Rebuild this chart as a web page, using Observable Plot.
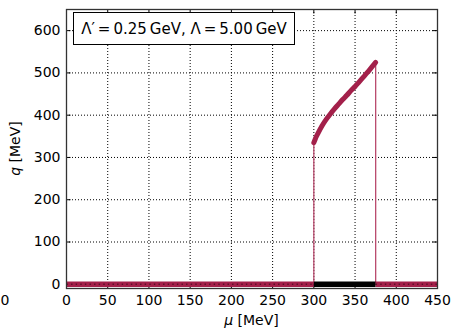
<!DOCTYPE html>
<html>
<head>
<meta charset="utf-8">
<script src="https://cdn.jsdelivr.net/npm/d3@7"></script>
<script src="https://cdn.jsdelivr.net/npm/@observablehq/plot@0.6"></script>
<style>
  html, body { margin: 0; padding: 0; background: #fff; }
  #chart { position: relative; width: 454px; height: 329px; }
  svg { font-family: "DejaVu Sans", sans-serif; }
</style>
</head>
<body>
<div id="chart"></div>
<script>
// ---- data ----
const xTicks = [0, 50, 100, 150, 200, 250, 300, 350, 400, 450];
const yTicks = [0, 100, 200, 300, 400, 500, 600];

// upper branch q(mu)
const muCurve = [300, 302, 305, 310, 315, 320, 325, 330, 335, 340, 345, 350, 355, 360, 365, 370, 375];
const qCurve  = [335, 345, 357, 375, 390, 403, 415, 426, 437, 447, 458, 468, 479, 490, 501, 513, 525];

// q = 0 branch segments
const segStart = [0, 300, 375];
const segEnd   = [300, 375, 450];
const segPhase = ["normal", "condensed", "normal"];

// vertical jumps
const muJump = [300, 375];
const qJump  = [335, 525];

const legendText = "Λ′\u2009=\u20090.25\u2009GeV, Λ\u2009=\u20095.00\u2009GeV";

// ---- build ----
const W = 454, H = 329;
const mL = 66, mR = 17, mT = 9, mB = 41;
const xDom = [0, 450], yDom = [-10, 650];
const pxX = (W - mL - mR) / (xDom[1] - xDom[0]);
const pxY = (H - mT - mB) / (yDom[1] - yDom[0]);
const tLen = 4.5;

const crimson = "#a3204a";
const curve = muCurve.map((m, i) => ({mu: m, q: qCurve[i]}));
const segs = segStart.map((s, i) => ({a: s, b: segEnd[i], phase: segPhase[i]}));
const jumps = muJump.map((m, i) => ({mu: m, q: qJump[i]}));

const chart = Plot.plot({
  width: W, height: H,
  marginLeft: mL, marginRight: mR, marginTop: mT, marginBottom: mB,
  style: {fontFamily: "DejaVu Sans, sans-serif", fontSize: "14px", color: "#000", background: "#fff"},
  x: {domain: xDom},
  y: {domain: yDom},
  marks: [
    Plot.gridX(xTicks, {stroke: "#000", strokeOpacity: 1, strokeDasharray: "1,2", strokeWidth: 1}),
    Plot.gridY(yTicks, {stroke: "#000", strokeOpacity: 1, strokeDasharray: "1,2", strokeWidth: 1}),
    // inward ticks on all four sides
    Plot.ruleX(xTicks, {x: d => d, y1: yDom[0], y2: yDom[0] + tLen / pxY, stroke: "#000"}),
    Plot.ruleX(xTicks, {x: d => d, y1: yDom[1], y2: yDom[1] - tLen / pxY, stroke: "#000"}),
    Plot.ruleY(yTicks, {y: d => d, x1: xDom[0], x2: xDom[0] + tLen / pxX, stroke: "#000"}),
    Plot.ruleY(yTicks, {y: d => d, x1: xDom[1], x2: xDom[1] - tLen / pxX, stroke: "#000"}),
    // jumps
    Plot.ruleX(jumps, {x: "mu", y1: 0, y2: "q", stroke: "#b94a6d", strokeWidth: 1.3}),
    // q = 0 branch
    Plot.link(segs, {x1: "a", x2: "b", y1: 0, y2: 0, stroke: d => d.phase === "condensed" ? "#000" : crimson, strokeWidth: 5.5, strokeLinecap: "butt"}),
    Plot.link(segs, {x1: "a", x2: "b", y1: 0, y2: 0, stroke: d => d.phase === "condensed" ? "#000" : "#5e1028", strokeWidth: 1.6, strokeDasharray: "1.4,3.2", strokeLinecap: "butt"}),
    // upper branch
    Plot.line(curve, {x: "mu", y: "q", stroke: crimson, strokeWidth: 5, strokeLinecap: "round", strokeLinejoin: "round", curve: "monotone-x"}),
    Plot.frame({stroke: "#333", strokeWidth: 1.3}),
    Plot.axisX(xTicks, {tickSize: 0, tickPadding: 7, label: null, fontSize: 14}),
    Plot.axisY(yTicks, {tickSize: 0, tickPadding: 6, label: null, fontSize: 14})
  ]
});

document.getElementById("chart").appendChild(chart);

// axis titles with italic symbols, legend box
const svg = d3.select(chart);
const sx = chart.scale("x"), sy = chart.scale("y");
const cx = (sx.apply(xDom[0]) + sx.apply(xDom[1])) / 2;
const cy = (sy.apply(yDom[0]) + sy.apply(yDom[1])) / 2;

const xt = svg.append("text").attr("x", cx).attr("y", 325).attr("text-anchor", "middle").attr("font-size", 14).attr("fill", "#000");
xt.append("tspan").attr("font-style", "italic").text("μ");
xt.append("tspan").text(" [MeV]");

const yt = svg.append("text").attr("transform", `translate(20,${cy}) rotate(-90)`).attr("text-anchor", "middle").attr("font-size", 14).attr("fill", "#000");
yt.append("tspan").attr("font-style", "italic").text("q");
yt.append("tspan").text(" [MeV]");

// fragment of neighbouring panel's tick label at far left
svg.append("text").attr("x", 0.5).attr("y", 305).attr("text-anchor", "start").attr("font-size", 14).attr("fill", "#000").text("0");

const lg = svg.append("g");
lg.append("rect").attr("x", 73.5).attr("y", 12.5).attr("width", 221).attr("height", 32).attr("fill", "#fff").attr("stroke", "#000").attr("stroke-width", 1);
const lt = lg.append("text").attr("x", 184).attr("y", 34).attr("text-anchor", "middle").attr("font-size", 15).attr("fill", "#000").text(legendText);
// fit the legend text to the box width seen in the reference
const bw = lt.node().getBBox().width;
if (bw > 207) lt.attr("font-size", 15 * 207 / bw);
</script>
</body>
</html>
